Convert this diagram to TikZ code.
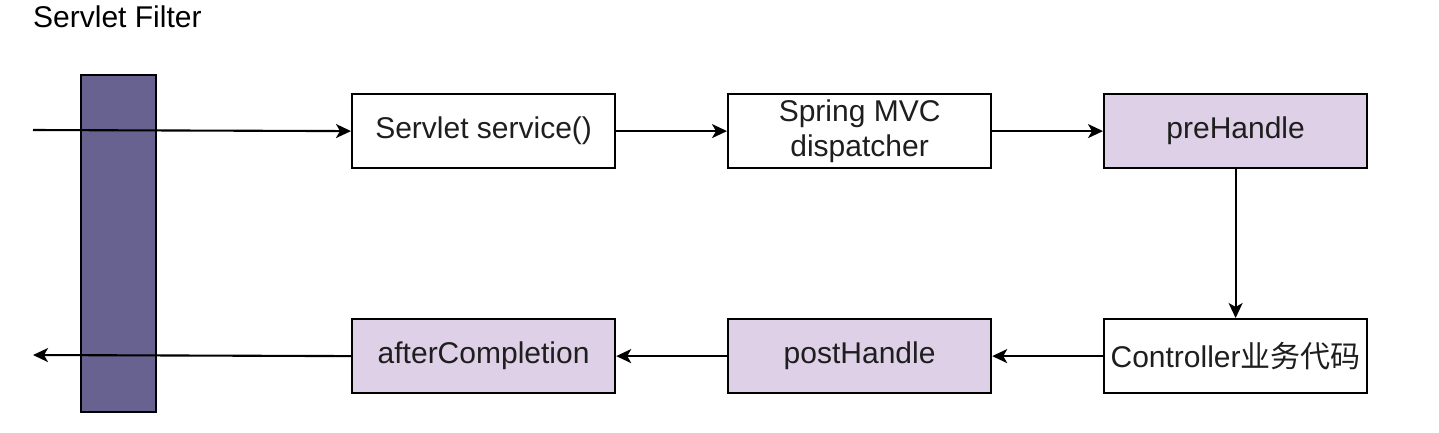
\documentclass[tikz,border=0pt]{standalone}
\usepackage{fontspec}
\setmainfont{Liberation Sans}
\newfontfamily\cjk{Noto Sans CJK SC}
\usetikzlibrary{arrows.meta}
\definecolor{barfill}{HTML}{67628F}
\definecolor{lightpurple}{HTML}{DED0E6}
\definecolor{txt}{HTML}{1E1E1E}
\begin{document}
\begin{tikzpicture}[x=1pt,y=-1pt,
  box/.style={draw=black,line width=2.2pt,minimum width=263pt,minimum height=74pt,inner sep=0pt,
    anchor=north west,text=txt,align=center,font=\fontsize{30}{35}\selectfont},
  hook/.style={box,fill=lightpurple},
  conn/.style={line width=2.1pt,-{Stealth[length=15pt,width=14pt,inset=4pt]}}]
\useasboundingbox (0,0) rectangle (1439,432);
% title
\node[anchor=west,inner sep=0pt,text=black,font=\fontsize{30}{35}\selectfont] (title) at (33,17) {Servlet Filter};
% filter bar
\node[draw=black,line width=2.2pt,fill=barfill,minimum width=75pt,minimum height=337pt,inner sep=0pt,anchor=north west] (bar) at (80,74) {};
% boxes
\node[box] (svc) at (351,93) {Servlet service()};
\node[box] (disp) at (727,93) {Spring MVC\\dispatcher};
\node[hook] (pre) at (1103,93) {preHandle};
\node[box] (ctrl) at (1103,318) {Controller{\cjk 业务代码}};
\node[hook] (post) at (727,318) {postHandle};
\node[hook] (after) at (351,318) {afterCompletion};
% free ends
\coordinate (in) at (33,130);
\coordinate (out) at (33,355);
% connectors
\draw[conn] (in) -- (svc.west);
\draw[conn] (svc.east) -- (disp.west);
\draw[conn] (disp.east) -- (pre.west);
\draw[conn] (pre.south) -- (ctrl.north);
\draw[conn] (ctrl.west) -- (post.east);
\draw[conn] (post.west) -- (after.east);
\draw[conn] (after.west) -- (out);
\end{tikzpicture}
\end{document}
